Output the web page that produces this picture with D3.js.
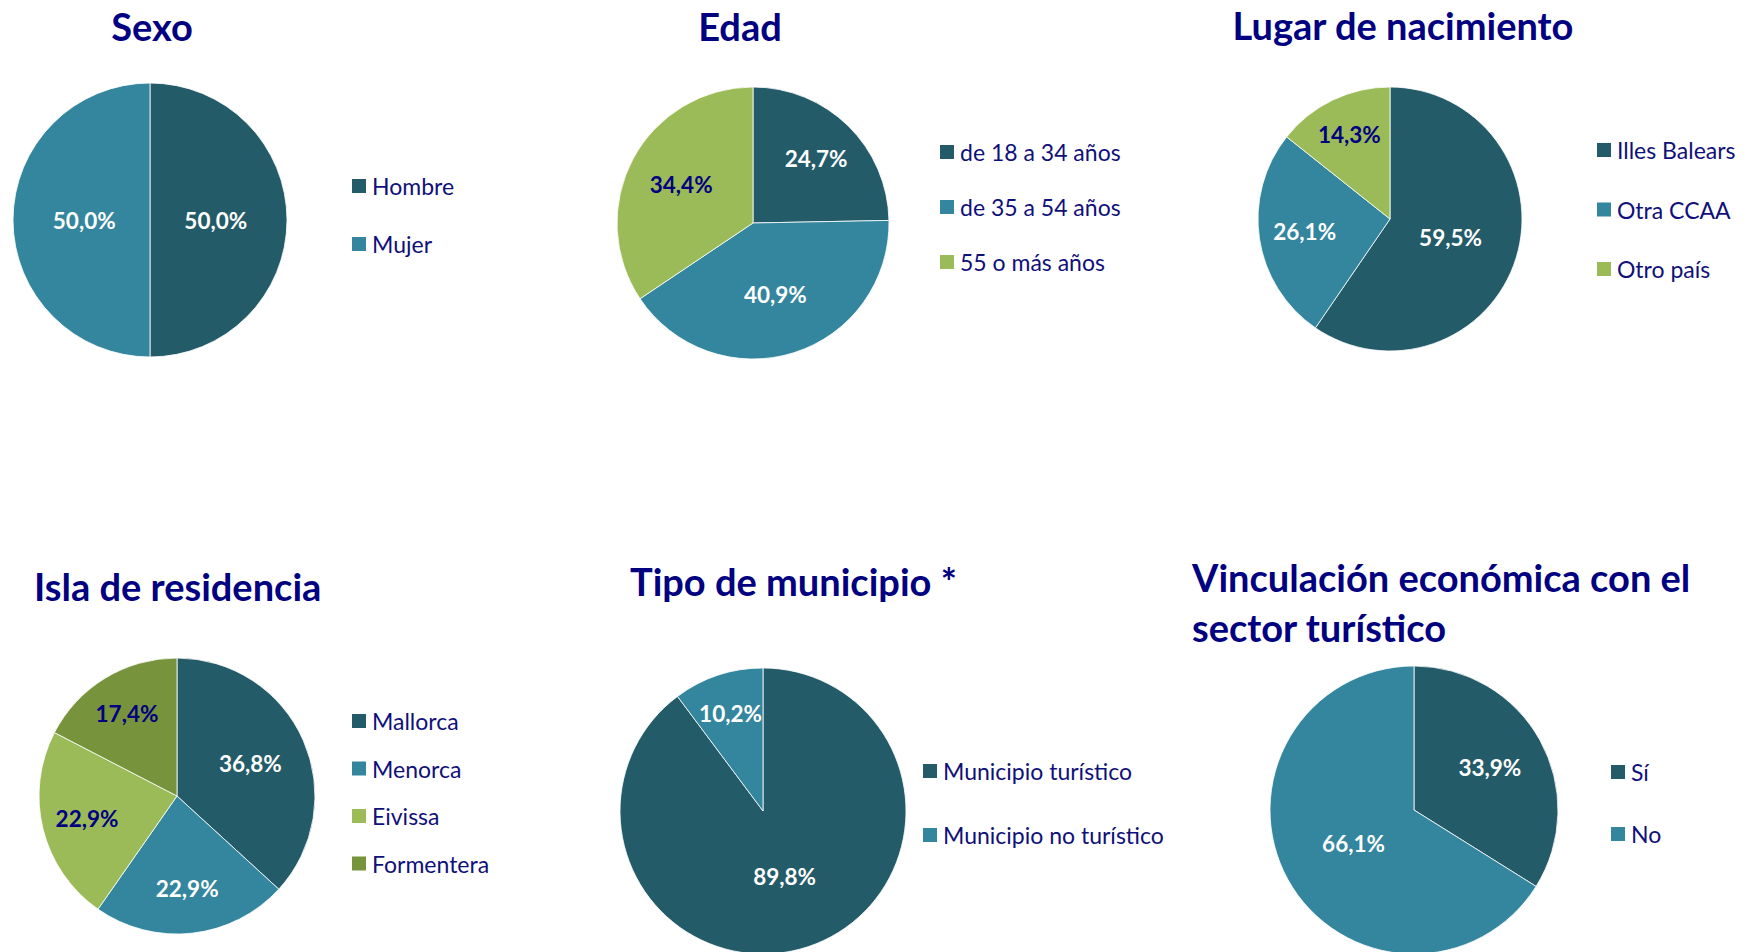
<!DOCTYPE html>
<html lang="es">
<head>
<meta charset="utf-8">
<title>Perfil de la muestra</title>
<script src="https://d3js.org/d3.v7.min.js"></script>
<style>
  body { margin: 0; background: #fff; }
  svg { display: block; }
  .title { font-family: Lato, "Open Sans", sans-serif; font-weight: 700; fill: #000080; }
  .legend text { font-family: Lato, "Open Sans", sans-serif; fill: #10107a; }
  .lbl { font-family: Lato, "Open Sans", sans-serif; font-weight: 700; }
</style>
</head>
<body>
<script>
// ---- data (percentages) ----
var sexoCats = ["Hombre", "Mujer"];
var sexoVals = [50.0, 50.0];

var edadCats = ["de 18 a 34 años", "de 35 a 54 años", "55 o más años"];
var edadVals = [24.7, 40.9, 34.4];

var lugarCats = ["Illes Balears", "Otra CCAA", "Otro país"];
var lugarVals = [59.5, 26.1, 14.3];

var islaCats = ["Mallorca", "Menorca", "Eivissa", "Formentera"];
var islaVals = [36.8, 22.9, 22.9, 17.4];

var tipoCats = ["Municipio turístico", "Municipio no turístico"];
var tipoVals = [89.8, 10.2];

var vincCats = ["Sí", "No"];
var vincVals = [33.9, 66.1];

var titles = ["Sexo", "Edad", "Lugar de nacimiento", "Isla de residencia",
              "Tipo de municipio *", ["Vinculación económica con el", "sector turístico"]];

// colours by slice order, and the label colour that goes with each
var sliceColors = ["#235b69", "#33869d", "#9bbb59", "#77933c"];
var labelColors = ["#ffffff", "#ffffff", "#000080", "#000080"];

var W = 1758, H = 952;
var svg = d3.select("body").append("svg").attr("width", W).attr("height", H);

// layout for each panel
var panels = [
  { cats: sexoCats,  vals: sexoVals,  cx: 150,  cy: 220, r: 137, tx: 152,  ty: 26,  anchor: "middle", lx: 352,  ly: 186, step: 58 },
  { cats: edadCats,  vals: edadVals,  cx: 753,  cy: 223, r: 136, tx: 740,  ty: 26,  anchor: "middle", lx: 940,  ly: 152, step: 55 },
  { cats: lugarCats, vals: lugarVals, cx: 1390, cy: 219, r: 132, tx: 1403, ty: 25,  anchor: "middle", lx: 1597, ly: 150, step: 59.5 },
  { cats: islaCats,  vals: islaVals,  cx: 177,  cy: 796, r: 138, tx: 34,   ty: 586, anchor: "start",  lx: 352,  ly: 721, step: 47.5 },
  { cats: tipoCats,  vals: tipoVals,  cx: 763,  cy: 811, r: 143, tx: 630,  ty: 581, anchor: "start",  lx: 923,  ly: 771, step: 64 },
  { cats: vincCats,  vals: vincVals,  cx: 1414, cy: 810, r: 144, tx: 1192, ty: 577, anchor: "start",  lx: 1611, ly: 772, step: 62 }
];

var pie = d3.pie().sort(null).value(function(d) { return d; });

panels.forEach(function(p, k) {
  var g = svg.append("g").attr("transform", "translate(" + p.cx + "," + p.cy + ")");
  var arc = d3.arc().innerRadius(0).outerRadius(p.r);
  var arcs = pie(p.vals);

  g.selectAll("path")
    .data(arcs)
    .enter()
    .append("path")
    .attr("d", arc)
    .attr("fill", function(d, i) { return sliceColors[i]; })
    .attr("stroke", "#ffffff")
    .attr("stroke-width", 0.8);

  // label radius: near the centroid of the sector, pushed out for thin slices
  g.selectAll("text.lbl")
    .data(arcs)
    .enter()
    .append("text")
    .attr("class", "lbl")
    .attr("transform", function(d) {
      var th = d.endAngle - d.startAngle;
      var c = 2 * Math.sin(th / 2) / (3 * th / 2);
      var f = Math.max(0.48, Math.min(0.75, c * 1.1));
      var a = (d.startAngle + d.endAngle) / 2;
      return "translate(" + (Math.sin(a) * p.r * f) + "," + (-Math.cos(a) * p.r * f) + ")";
    })
    .attr("text-anchor", "middle")
    .attr("dominant-baseline", "central")
    .attr("font-size", 22.5)
    .attr("fill", function(d, i) { return labelColors[i]; })
    .text(function(d) { return d3.format(".1f")(d.data).replace(".", ",") + "%"; });

  // title
  var t = titles[k];
  var lines = Array.isArray(t) ? t : [t];
  svg.selectAll(null)
    .data(lines)
    .enter()
    .append("text")
    .attr("class", "title")
    .attr("x", p.tx)
    .attr("y", function(d, i) { return p.ty + i * 50; })
    .attr("text-anchor", p.anchor)
    .attr("dominant-baseline", "central")
    .attr("font-size", 38)
    .text(function(d) { return d; });

  // legend
  var lg = svg.append("g").attr("class", "legend")
    .attr("transform", "translate(" + p.lx + "," + p.ly + ")");
  var item = lg.selectAll("g")
    .data(p.cats)
    .enter()
    .append("g")
    .attr("transform", function(d, i) { return "translate(0," + (i * p.step) + ")"; });
  item.append("rect")
    .attr("x", 0).attr("y", -7)
    .attr("width", 14).attr("height", 14)
    .attr("fill", function(d, i) { return sliceColors[i]; });
  item.append("text")
    .attr("x", 20)
    .attr("y", 0)
    .attr("dominant-baseline", "central")
    .attr("font-size", 23)
    .text(function(d) { return d; });
});
</script>
</body>
</html>
